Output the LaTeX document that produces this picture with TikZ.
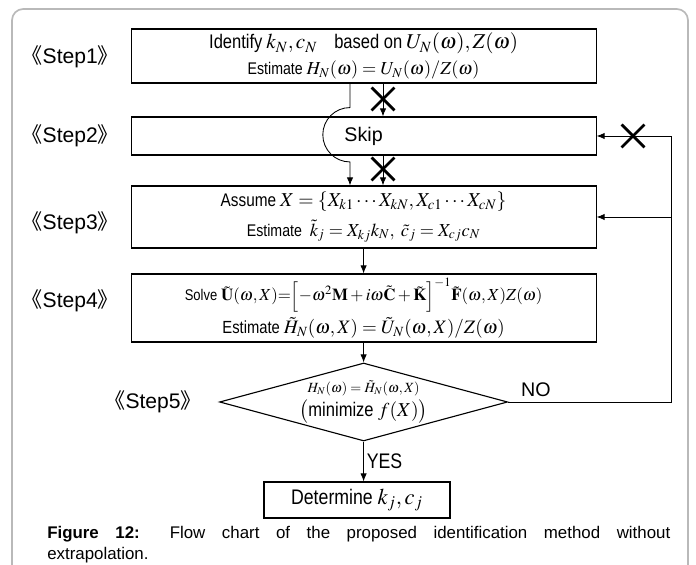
\documentclass[tikz,border=0pt]{standalone}
\usepackage{amsmath}
\usepackage{mathptmx}
\usepackage{fontspec}
\setmainfont{Liberation Sans}
\newfontfamily\estrecha[FakeStretch=0.84]{Liberation Sans}
\newfontfamily\cjk{Noto Sans CJK SC}
\usetikzlibrary{arrows.meta,positioning,shapes.geometric,shapes.misc}
\definecolor{Marco}{HTML}{B9B9B9}
\newcommand{\paso}[1]{{\cjk《}Step#1{\cjk》}}
\newcommand{\tam}[1]{\fontsize{#1}{1.2\dimexpr#1pt\relax}\selectfont}

\begin{document}
\begin{tikzpicture}[
  >={Latex[length=2mm,width=1.6mm]},
  caja/.style={draw,thick,minimum width=11.625cm,inner sep=2pt,align=center,
    font=\estrecha\fontsize{12}{18}\selectfont},
  rombo/.style={draw,thick,diamond,aspect=3.7,inner sep=0pt,align=center,
    minimum width=7.2cm,minimum height=1.95cm,
    font=\estrecha\fontsize{12}{16}\selectfont},
  pasolbl/.style={anchor=east,inner sep=0pt,font=\fontsize{15}{17}\selectfont},
  flecha/.style={->,semithick},
  cruz/.style={draw,cross out,line width=2pt,minimum width=0.5cm,
    minimum height=0.5cm,inner sep=0pt}
]
  \useasboundingbox (0,0) rectangle (17.40,14.125);
  \clip (0,0) rectangle (17.40,14.125);
  \draw[Marco,line width=1.2pt,rounded corners=8pt] (0.30,-0.50) rectangle (17.20,13.90);

  \node[caja,minimum height=1.35cm] (s1) at (9.09,12.725)
    {{\tam{14}Identify} {\tam{15}$k_N,c_N$}\quad {\tam{14}based on} {\tam{15}$U_N(\omega),Z(\omega)$}\\
     {\tam{12}Estimate} {\tam{13}$H_N(\omega)=U_N(\omega)/Z(\omega)$}};
  \node[caja,minimum height=0.95cm,font=\fontsize{14}{16}\selectfont] (s2) at (9.09,10.725) {Skip};
  \node[caja,minimum height=1.55cm,font=\estrecha\fontsize{12}{19}\selectfont] (s3) at (9.09,8.70)
    {{\tam{13}Assume} {\tam{14}$X=\{X_{k1}\cdots X_{kN},X_{c1}\cdots X_{cN}\}$}\\[2pt]
     {\tam{12}Estimate}\ \ {\tam{13}$\tilde{k}_j=X_{kj}k_N,\ \tilde{c}_j=X_{cj}c_N$}};
  \node[caja,minimum height=1.70cm,font=\estrecha\fontsize{12}{21}\selectfont] (s4) at (9.09,6.425)
    {{\tam{11}Solve} $\tilde{\mathbf U}(\omega,X){=}\Bigl[-\omega^2\mathbf M+i\omega\tilde{\mathbf C}+\tilde{\mathbf K}\Bigr]^{-1}\tilde{\mathbf F}(\omega,X)Z(\omega)$\\[2pt]
     {\tam{12.5}Estimate} {\tam{13.5}$\tilde{H}_N(\omega,X)=\tilde{U}_N(\omega,X)/Z(\omega)$}};
  \node[rombo] (dec) at (9.09,4.075)
    {{\tam{10}$H_N(\omega)=\tilde{H}_N(\omega,X)$}\\[1pt]
     {\tam{14}$\bigl($minimize $f(X)\bigr)$}};
  \node[draw,thick,minimum width=4.65cm,minimum height=0.9cm,
    font=\estrecha\fontsize{15}{17}\selectfont] (det) at (8.925,1.625)
    {Determine {\tam{16}$k_j,c_j$}};

  \node[pasolbl] (p1) at (2.98,12.70) {\paso{1}};
  \node[pasolbl] (p2) at (2.98,10.74) {\paso{2}};
  \node[pasolbl] (p3) at (2.98,8.55) {\paso{3}};
  \node[pasolbl] (p4) at (2.98,6.60) {\paso{4}};
  \node[pasolbl] (p5) at (5.05,4.075) {\paso{5}};

  % Camino directo (cancelado) y desvio que salta Step2
  \coordinate (colX) at (9.575,0);
  \coordinate (colB) at (8.75,0);
  \draw[flecha] (s1.south -| colX) -- (s2.north -| colX);
  \draw[flecha] (s2.south -| colX) -- (s3.north -| colX);
  \node[cruz] (c1) at (9.575,11.65) {};
  \node[cruz] (c2) at (9.575,9.90) {};
  \draw[flecha] (s1.south -| colB) -- ++(0,-0.60)
    arc[start angle=90,end angle=270,radius=0.68] -- (s3.north -| colB);

  \draw[flecha] (s3) -- (s4);
  \draw[flecha] (s4) -- (dec);
  \draw[flecha] (dec.south) -- node[right,inner sep=2pt,font=\estrecha\fontsize{15}{17}\selectfont] (yes) {YES} (dec.south |- det.north);

  % Retorno cuando no se cumple la igualdad
  \coordinate (ret) at (16.775,0);
  \draw[flecha] (dec.east) -- node[above,pos=0.17,font=\fontsize{14}{16}\selectfont] (no) {NO}
    (dec.east -| ret) |- (s2.east);
  \draw[flecha] (s3.east -| ret) -- (s3.east);
  \node[cruz] (c3) at (15.825,10.725) {};

  \node[anchor=north west,text width=15.575cm,align=justify,inner sep=0pt,
    font=\fontsize{12}{15}\selectfont] (pie) at (1.175,0.98)
    {\textbf{Figure 12:} Flow chart of the proposed identification method without\linebreak extrapolation.};
\end{tikzpicture}
\end{document}
